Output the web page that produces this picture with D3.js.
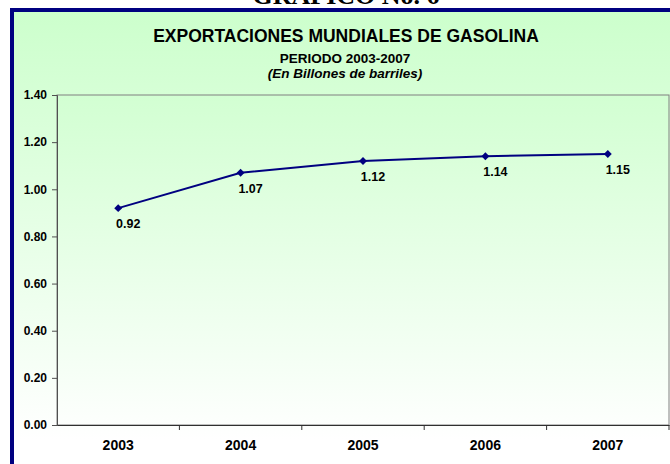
<!DOCTYPE html>
<html>
<head>
<meta charset="utf-8">
<script src="https://cdn.jsdelivr.net/npm/d3@7"></script>
<style>
  body { margin: 0; background: #fff; }
  text { font-family: "Liberation Sans", Arial, sans-serif; font-weight: bold; }
</style>
</head>
<body>
<svg id="chart" width="670" height="464"></svg>
<script>
// data of the chart
var years = ["2003", "2004", "2005", "2006", "2007"];
var exports = [0.92, 1.07, 1.12, 1.14, 1.15];
var yTicks = [0.00, 0.20, 0.40, 0.60, 0.80, 1.00, 1.20, 1.40];

var svgWidth = 670,
    svgHeight = 464;

// plot area margins
var margin = {top: 95, right: 1, bottom: 39, left: 57};

var svg = d3.select("#chart");

// gradients for chart and plot area
var defs = svg.append("defs");
var g1 = defs.append("linearGradient").attr("id", "chartBg")
    .attr("gradientUnits", "userSpaceOnUse")
    .attr("x1", 0).attr("y1", 10).attr("x2", 0).attr("y2", 440);
g1.append("stop").attr("offset", "0%").attr("stop-color", "#ccffcc");
g1.append("stop").attr("offset", "100%").attr("stop-color", "#ffffff");

var g2 = defs.append("linearGradient").attr("id", "plotBg")
    .attr("x1", 0).attr("y1", 0).attr("x2", 0).attr("y2", 1);
g2.append("stop").attr("offset", "0%").attr("stop-color", "#d2ffd2");
g2.append("stop").attr("offset", "100%").attr("stop-color", "#fdfffd");

// header of the page, mostly cut off
svg.append("text")
    .attr("x", 346)
    .attr("y", 3.5)
    .attr("text-anchor", "middle")
    .style("font-family", "'Liberation Serif', 'Times New Roman', serif")
    .style("font-size", "26px")
    .text("GRAFICO No. 6");

// chart area with navy border
svg.append("rect")
    .attr("x", 12)
    .attr("y", 10)
    .attr("width", 700)
    .attr("height", 500)
    .attr("fill", "url(#chartBg)")
    .attr("stroke", "#000080")
    .attr("stroke-width", 4);

// titles
svg.append("text")
    .attr("x", 346).attr("y", 41.5)
    .attr("text-anchor", "middle")
    .style("font-size", "17.5px")
    .text("EXPORTACIONES MUNDIALES DE GASOLINA");

svg.append("text")
    .attr("x", 345).attr("y", 62.5)
    .attr("text-anchor", "middle")
    .style("font-size", "13.5px")
    .text("PERIODO 2003-2007");

svg.append("text")
    .attr("x", 345).attr("y", 78)
    .attr("text-anchor", "middle")
    .style("font-size", "13.5px")
    .style("font-style", "italic")
    .text("(En Billones de barriles)");

// scales
var xScale = d3.scaleBand()
    .domain(years)
    .range([margin.left, svgWidth - margin.right]);

var yScale = d3.scaleLinear()
    .domain([0, 1.4])
    .range([svgHeight - margin.bottom, margin.top]);

// plot area
svg.append("rect")
    .attr("x", margin.left)
    .attr("y", margin.top)
    .attr("width", svgWidth - margin.right - margin.left)
    .attr("height", yScale(0) - margin.top)
    .attr("fill", "url(#plotBg)")
    .attr("stroke", "#808080")
    .attr("stroke-width", 1);

// y axis
var yAxis = svg.append("g")
    .attr("transform", "translate(" + margin.left + ",0)")
    .call(d3.axisLeft(yScale)
        .tickValues(yTicks)
        .tickFormat(d3.format(".2f"))
        .tickSize(5)
        .tickPadding(5));
yAxis.selectAll("path, line").attr("stroke", "#505050");
yAxis.selectAll("text").style("font-size", "12px").attr("fill", "#000");

// x axis with ticks between categories
var xAxis = svg.append("g")
    .attr("transform", "translate(0," + yScale(0) + ")")
    .call(d3.axisBottom(xScale).tickSize(0).tickPadding(15));
xAxis.select(".domain").attr("stroke", "#303030");
xAxis.selectAll("text").style("font-size", "14px").attr("fill", "#000");

svg.append("g").selectAll("line")
    .data(years)
    .enter()
    .append("line")
    .attr("x1", function(d) { return xScale(d) + xScale.bandwidth(); })
    .attr("x2", function(d) { return xScale(d) + xScale.bandwidth(); })
    .attr("y1", yScale(0))
    .attr("y2", yScale(0) + 5)
    .attr("stroke", "#303030");

// line
var line = d3.line()
    .x(function(d, i) { return xScale(years[i]) + xScale.bandwidth() / 2; })
    .y(function(d) { return yScale(d); });

svg.append("path")
    .datum(exports)
    .attr("d", line)
    .attr("fill", "none")
    .attr("stroke", "#000080")
    .attr("stroke-width", 2);

// diamond markers
svg.selectAll(".marker")
    .data(exports)
    .enter()
    .append("path")
    .attr("class", "marker")
    .attr("d", d3.symbol().type(d3.symbolDiamond2).size(40))
    .attr("transform", function(d, i) {
        return "translate(" + (xScale(years[i]) + xScale.bandwidth() / 2) + "," + yScale(d) + ")";
    })
    .attr("fill", "#000080");

// data labels
svg.selectAll(".label")
    .data(exports)
    .enter()
    .append("text")
    .attr("class", "label")
    .attr("x", function(d, i) { return xScale(years[i]) + xScale.bandwidth() / 2 + 10; })
    .attr("y", function(d) { return yScale(d) + 20; })
    .attr("text-anchor", "middle")
    .style("font-size", "12.5px")
    .text(function(d) { return d3.format(".2f")(d); });
</script>
</body>
</html>
